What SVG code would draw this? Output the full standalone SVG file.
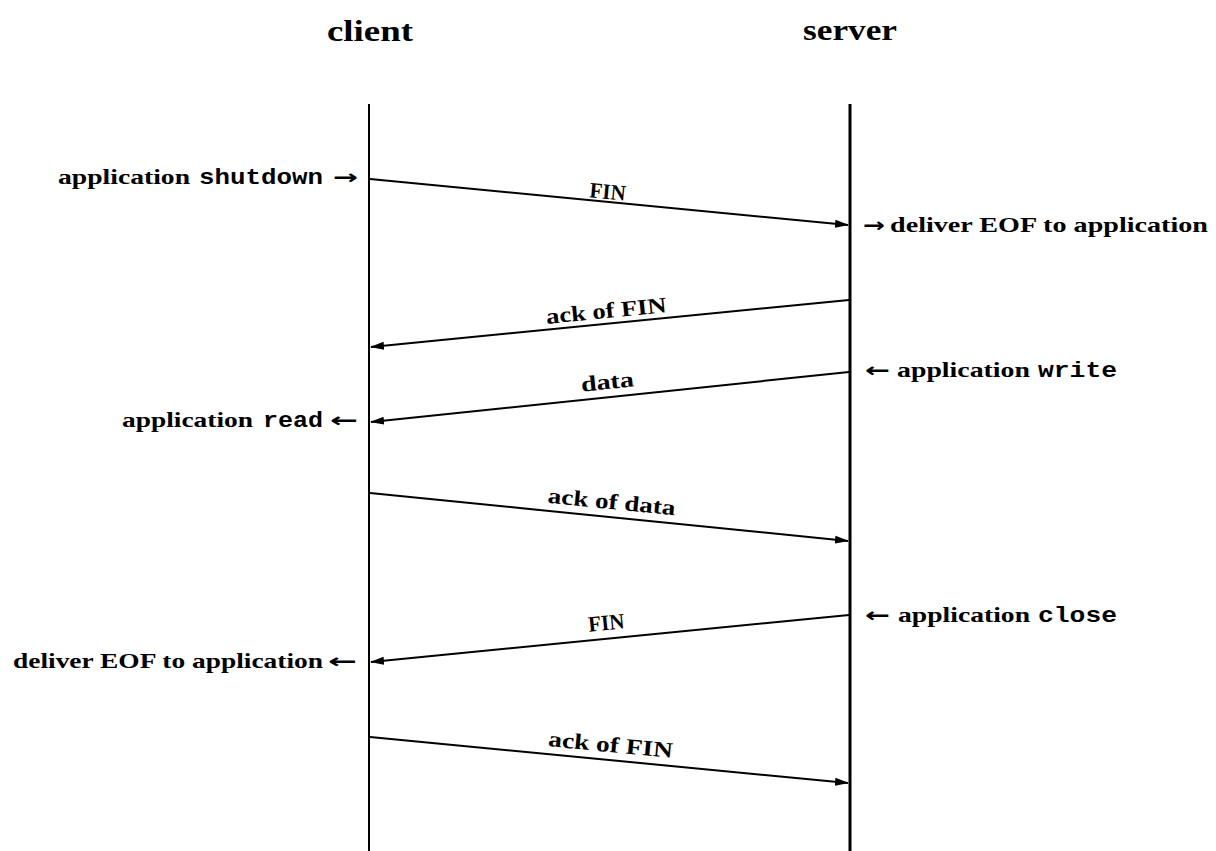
<svg xmlns="http://www.w3.org/2000/svg" width="1216" height="851" viewBox="0 0 1216 851">
<defs>
<style>
.t{font-family:"Liberation Serif","Times New Roman",serif;font-weight:bold;font-size:22px;fill:#000}
.m{font-family:"Liberation Mono","Courier New",monospace;font-weight:bold;font-size:22px;fill:#000}
.a{font-family:"DejaVu Sans",sans-serif;font-weight:bold;font-size:20px;fill:#000}
.h{font-family:"Liberation Serif","Times New Roman",serif;font-weight:bold;font-size:30px;fill:#000}
.msg{stroke:#000;stroke-width:2;fill:none}
.life{stroke:#000;fill:none}
</style>
<marker id="ah" viewBox="0 0 14 10" refX="13" refY="5" markerWidth="14" markerHeight="10" markerUnits="userSpaceOnUse" orient="auto">
<path d="M0,1 L14,5 L0,9 Z" fill="#000"/>
</marker>
</defs>
<rect width="1216" height="851" fill="#fff"/>
<g id="client">
<text class="h" x="327" y="41" textLength="86" lengthAdjust="spacingAndGlyphs">client</text>
<line class="life" x1="369" y1="104" x2="369" y2="851" stroke-width="2"/>
</g>
<g id="server">
<text class="h" x="803" y="40" textLength="94" lengthAdjust="spacingAndGlyphs">server</text>
<line class="life" x1="850" y1="104" x2="850" y2="851" stroke-width="3"/>
</g>
<g id="connectors">
<line class="msg" x1="370" y1="179" x2="848" y2="225" marker-end="url(#ah)"/>
<line class="msg" x1="849" y1="300" x2="371" y2="347" marker-end="url(#ah)"/>
<line class="msg" x1="849" y1="372" x2="371" y2="422" stroke-width="4" marker-end="url(#ah)"/>
<line class="msg" x1="370" y1="493" x2="848" y2="541" marker-end="url(#ah)"/>
<line class="msg" x1="849" y1="615" x2="371" y2="662" marker-end="url(#ah)"/>
<line class="msg" x1="370" y1="737" x2="848" y2="783" marker-end="url(#ah)"/>
</g>
<g id="msg-labels">
<text class="t" x="607" y="199" text-anchor="middle" textLength="36" lengthAdjust="spacingAndGlyphs" transform="rotate(5.4 607 199)">FIN</text>
<text class="t" x="607" y="318" text-anchor="middle" textLength="121" lengthAdjust="spacingAndGlyphs" transform="rotate(-5.6 607 318)">ack of FIN</text>
<text class="t" x="608" y="389" text-anchor="middle" textLength="53" lengthAdjust="spacingAndGlyphs" transform="rotate(-5.9 608 389)">data</text>
<text class="t" x="611" y="509" text-anchor="middle" textLength="128" lengthAdjust="spacingAndGlyphs" transform="rotate(5.6 611 509)">ack of data</text>
<text class="t" x="607" y="630" text-anchor="middle" textLength="36" lengthAdjust="spacingAndGlyphs" transform="rotate(-5.6 607 630)">FIN</text>
<text class="t" x="610" y="752" text-anchor="middle" textLength="125" lengthAdjust="spacingAndGlyphs" transform="rotate(5.4 610 752)">ack of FIN</text>
</g>
<g id="client-labels">
<text class="t" x="58" y="184" textLength="132" lengthAdjust="spacingAndGlyphs">application</text>
<text class="m" x="199" y="184" textLength="124" lengthAdjust="spacingAndGlyphs">shutdown</text>
<text class="a" x="333" y="184" textLength="25" lengthAdjust="spacingAndGlyphs">→</text>
<text class="t" x="122" y="427" textLength="131" lengthAdjust="spacingAndGlyphs">application</text>
<text class="m" x="263" y="427" textLength="60" lengthAdjust="spacingAndGlyphs">read</text>
<text class="a" x="330" y="427" textLength="28" lengthAdjust="spacingAndGlyphs">←</text>
<text class="t" x="13" y="668" textLength="310" lengthAdjust="spacingAndGlyphs">deliver EOF to application</text>
<text class="a" x="328" y="668" textLength="29" lengthAdjust="spacingAndGlyphs">←</text>
</g>
<g id="server-labels">
<text class="a" x="863" y="232" textLength="22" lengthAdjust="spacingAndGlyphs">→</text>
<text class="t" x="890" y="232" textLength="318" lengthAdjust="spacingAndGlyphs">deliver EOF to application</text>
<text class="a" x="865" y="377" textLength="25" lengthAdjust="spacingAndGlyphs">←</text>
<text class="t" x="897" y="377" textLength="133" lengthAdjust="spacingAndGlyphs">application</text>
<text class="m" x="1038" y="377" textLength="79" lengthAdjust="spacingAndGlyphs">write</text>
<text class="a" x="865" y="622" textLength="25" lengthAdjust="spacingAndGlyphs">←</text>
<text class="t" x="898" y="622" textLength="132" lengthAdjust="spacingAndGlyphs">application</text>
<text class="m" x="1038" y="622" textLength="79" lengthAdjust="spacingAndGlyphs">close</text>
</g>
</svg>
